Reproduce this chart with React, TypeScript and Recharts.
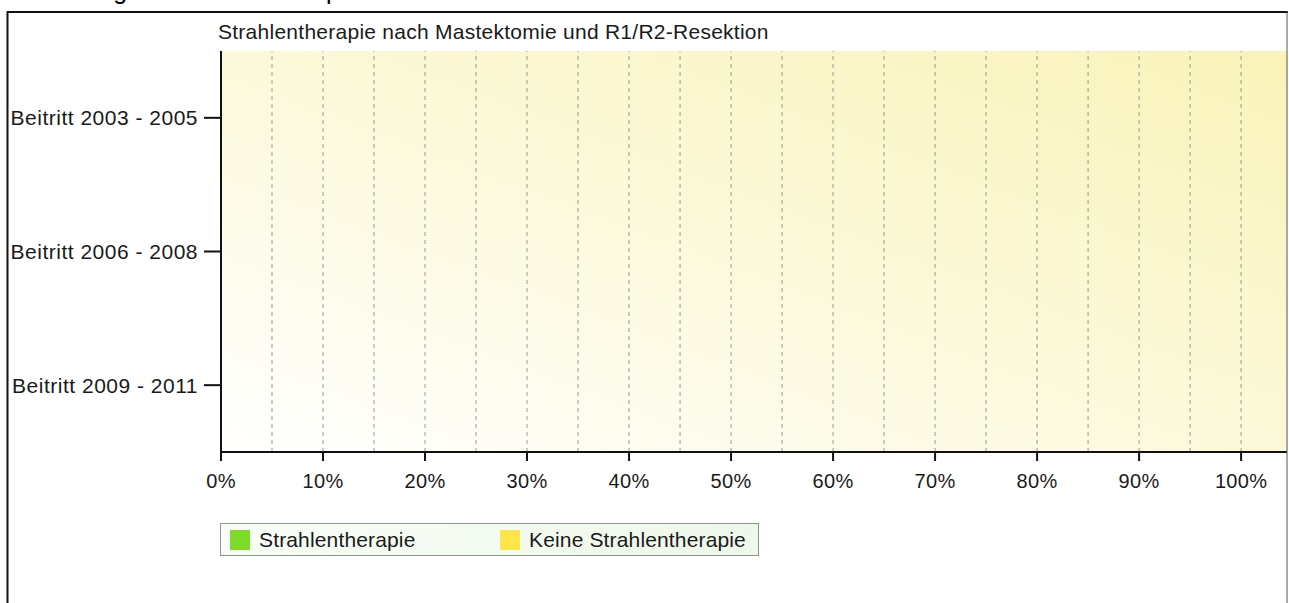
import React from 'react';
import { BarChart, Bar, XAxis, YAxis, ReferenceLine, ReferenceArea, Legend } from 'recharts';

const categories = ['Beitritt 2003 - 2005', 'Beitritt 2006 - 2008', 'Beitritt 2009 - 2011'];
const strahlentherapie = [0, 0, 0];
const keineStrahlentherapie = [0, 0, 0];
const xTicks = [0, 10, 20, 30, 40, 50, 60, 70, 80, 90, 100];
const gridValues = [5, 10, 15, 20, 25, 30, 35, 40, 45, 50, 55, 60, 65, 70, 75, 80, 85, 90, 95, 100];
const seriesNames = ['Strahlentherapie', 'Keine Strahlentherapie'];
const seriesColors = ['#7edb2a', '#fde54a'];
const chartTitle = 'Strahlentherapie nach Mastektomie und R1/R2-Resektion';
const pageHeading = 'Abbildung 17: Strahlentherapie nach Mastektomie und R1/R2-Resektion';

const data = categories.map((name, i) => ({
  name,
  s: strahlentherapie[i],
  k: keineStrahlentherapie[i],
}));

const FONT = '"Liberation Sans", Arial, sans-serif';

const LegendBox = () => (
  <div
    style={{
      position: 'relative',
      width: 537,
      height: 31,
      border: '1px solid #8b978b',
      background: 'linear-gradient(90deg, #f9fdf7 0%, #eef8ea 100%)',
      fontFamily: FONT,
      fontSize: 21,
      color: '#1a1a1a',
    }}
  >
    {seriesNames.map((n, i) => (
      <div key={n} style={{ position: 'absolute', left: i === 0 ? 9 : 279, top: 5, display: 'flex', alignItems: 'center', height: 21 }}>
        <div style={{ width: 20, height: 20, background: seriesColors[i] }} />
        <span style={{ marginLeft: 9, lineHeight: '21px', whiteSpace: 'nowrap', letterSpacing: 0.15 }}>{n}</span>
      </div>
    ))}
  </div>
);

export default function App() {
  return (
    <div style={{ position: 'absolute', left: 0, top: 0, width: 1289, height: 603, overflow: 'hidden', background: '#fff' }}>
      <BarChart
        width={1289}
        height={603}
        data={data}
        layout="vertical"
        margin={{ top: 51, right: 2, left: 0, bottom: 121 }}
        barCategoryGap="30%"
      >
        <defs>
          <linearGradient id="plotBg" x1="0" y1="1" x2="1" y2="0">
            <stop offset="0" stopColor="#ffffff" />
            <stop offset="0.5" stopColor="#fcf9da" />
            <stop offset="1" stopColor="#f9f3b9" />
          </linearGradient>
        </defs>
        <ReferenceArea x1={0} x2={104.5} fill="url(#plotBg)" fillOpacity={1} stroke="none" ifOverflow="extendDomain" />
        {gridValues.map((v) => (
          <ReferenceLine key={v} x={v} stroke="#999999" strokeWidth={1} strokeDasharray="4 4" />
        ))}
        <XAxis
          type="number"
          domain={[0, 104.5]}
          ticks={xTicks}
          allowDataOverflow
          height={30}
          tickSize={9}
          tickMargin={13}
          tickFormatter={(v: number) => `${v}%`}
          axisLine={{ stroke: '#111', strokeWidth: 2 }}
          tickLine={{ stroke: '#111', strokeWidth: 2 }}
          tick={{ fill: '#1a1a1a', fontSize: 20, fontFamily: FONT, letterSpacing: 0.3 }}
        />
        <YAxis
          type="category"
          dataKey="name"
          width={221}
          tickSize={17}
          tickMargin={6}
          axisLine={{ stroke: '#111', strokeWidth: 2 }}
          tickLine={{ stroke: '#111', strokeWidth: 2 }}
          tick={{ fill: '#1a1a1a', fontSize: 21, fontFamily: FONT, letterSpacing: 0.5 }}
        />
        <Bar dataKey="s" stackId="a" name={seriesNames[0]} fill={seriesColors[0]} isAnimationActive={false} />
        <Bar dataKey="k" stackId="a" name={seriesNames[1]} fill={seriesColors[1]} isAnimationActive={false} />
        <Legend
          layout="horizontal"
          verticalAlign="middle"
          align="center"
          content={() => <LegendBox />}
          wrapperStyle={{ top: 523, left: 220, width: 540, height: 33 }}
        />
      </BarChart>
      <svg
        width={1289}
        height={603}
        style={{ position: 'absolute', left: 0, top: 0, pointerEvents: 'none' }}
      >
        <text x={16} y={-1} fontSize={25} fontFamily={FONT} fill="#000">{pageHeading}</text>
        <line x1={7} y1={12} x2={1288} y2={12} stroke="#111" strokeWidth={2} />
        <line x1={7.5} y1={11} x2={7.5} y2={603} stroke="#111" strokeWidth={2} />
        <line x1={1287} y1={11} x2={1287} y2={603} stroke="#555" strokeWidth={1} />
        <text x={218} y={39} fontSize={21} fontFamily={FONT} fill="#1a1a1a" letterSpacing={0.26}>{chartTitle}</text>
      </svg>
    </div>
  );
}
